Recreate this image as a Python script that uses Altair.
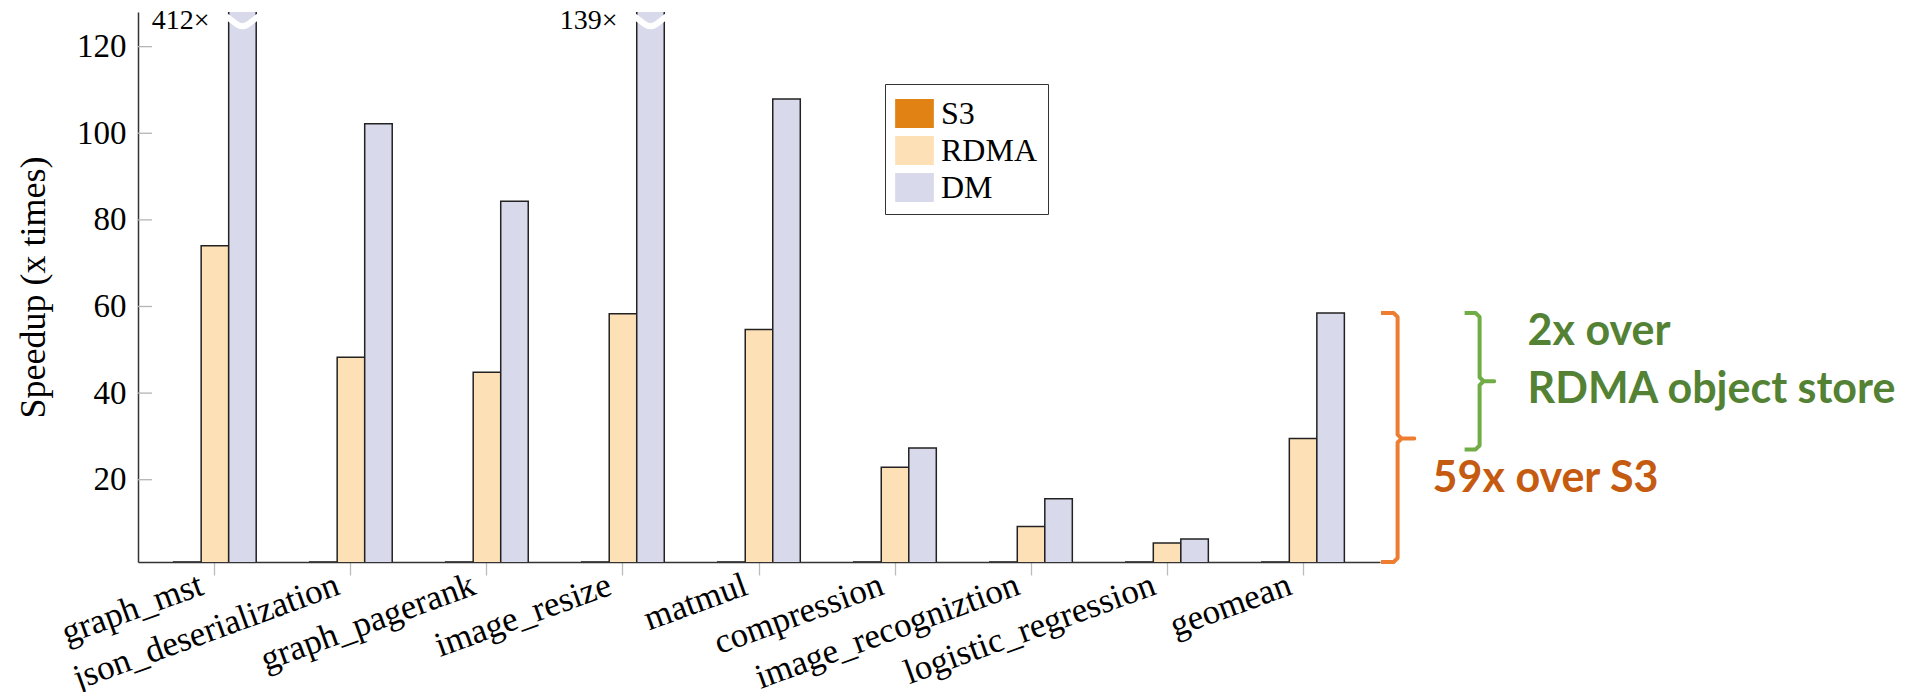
import altair as alt
import pandas as pd

# ---------------- data ----------------
categories = ["graph_mst", "json_deserialization", "graph_pagerank", "image_resize",
              "matmul", "compression", "image_recogniztion", "logistic_regression", "geomean"]
series_names = ["S3", "RDMA", "DM"]
s3_values = [1, 1, 1, 1, 1, 1, 1, 1, 1]
rdma_values = [74.0, 48.3, 44.8, 58.3, 54.7, 22.9, 9.2, 5.4, 29.5]
dm_values = [412, 102.2, 84.3, 139, 107.9, 27.3, 15.6, 6.3, 58.5]
series_colors = ["#e08214", "#fee0b6", "#d8daeb"]

y_ticks = [20, 40, 60, 80, 100, 120]
y_min, y_max = 1, 128

broken_categories = ["graph_mst", "image_resize"]
broken_labels = ["412×", "139×"]

ann_geo_dm = 58.5      # geomean DM
ann_geo_rdma = 29.5    # geomean RDMA
ann_green_bottom = 27.0

# ---------------- tables ----------------
rows = []
for s, vals in zip(series_names, [s3_values, rdma_values, dm_values]):
    for c, v in zip(categories, vals):
        rows.append({"category": c, "series": s, "value": v})
bars_df = pd.DataFrame(rows)

broken_df = pd.DataFrame({"category": broken_categories, "series": ["DM"] * 2,
                          "label": broken_labels, "value": [125.9] * 2})
ticks_df = pd.DataFrame({"value": y_ticks})

W, H = 1242, 550


def bracket(name, xl, xv, xt, top, mid, bottom):
    pts = [(xl, top), (xv - 4, top), (xv, top - 0.9), (xv, mid + 0.9), (xv + 4, mid),
           (xt, mid), (xv + 4, mid), (xv, mid - 0.9), (xv, bottom + 0.9), (xv - 4, bottom), (xl, bottom)]
    return [{"b": name, "o": i, "px": p[0], "value": p[1]} for i, p in enumerate(pts)]


br_df = pd.DataFrame(bracket("orange", 1243, 1259.6, 1276.3, ann_geo_dm, ann_geo_rdma, y_min)
                     + bracket("green", 1326.6, 1341.6, 1356.2, ann_geo_dm,
                               (ann_geo_dm + ann_green_bottom) / 2, ann_green_bottom))

serif = "Liberation Serif"
xscale = alt.Scale(domain=categories, paddingInner=0.393, paddingOuter=0.262)
offscale = alt.Scale(domain=series_names, paddingInner=0, paddingOuter=0)
yscale = alt.Scale(domain=[y_min, y_max], nice=False, zero=False)
yaxis = alt.Axis(values=y_ticks, title="Speedup (x times)", labelFont=serif, labelFontSize=33,
                 titleFont=serif, titleFontSize=36, titleFontWeight="normal", titlePadding=24)
Y = alt.Y("value:Q", scale=yscale, axis=yaxis)

bars = alt.Chart(bars_df).mark_bar(stroke="#222222", strokeWidth=1.5, clip=True).encode(
    x=alt.X("category:N", scale=xscale, title=None,
            axis=alt.Axis(labelAngle=340, labelAlign="right", labelBaseline="top",
                          labelFont=serif, labelFontSize=35,
                          labelPadding=-8, labelOffset=-19, labelLimit=0)),
    xOffset=alt.XOffset("series:N", scale=offscale),
    y=Y,
    color=alt.Color("series:N", scale=alt.Scale(domain=series_names, range=series_colors),
                    legend=alt.Legend(orient="none", legendX=747, legendY=72, title=None,
                                      symbolType="M-1,-0.75H1V0.75H-1Z", symbolSize=1498,
                                      symbolStrokeWidth=0, symbolOpacity=1,
                                      labelFont=serif, labelFontSize=32, labelColor="black",
                                      labelOffset=7, strokeColor="#333333", padding=10,
                                      rowPadding=1, fillColor="white",
                                      labelExpr="datum.label + '\u00a0\u00a0'")),
)

yt = alt.Chart(ticks_df).mark_rule(color="#b5b5b5", strokeWidth=1.3).encode(
    y=Y, x=alt.value(0), x2=alt.value(14))

breaks = alt.Chart(broken_df).mark_point(
    shape="M-1,-0.3L-0.35,0.2Q0,0.45 0.35,0.2L1,-0.3", size=1024, filled=False,
    stroke="white", strokeWidth=6, opacity=1).encode(
    x=alt.X("category:N", scale=xscale, axis=None),
    xOffset=alt.XOffset("series:N", scale=offscale),
    y=Y)

blabels = alt.Chart(broken_df).mark_text(font=serif, fontSize=28, align="right",
                                         baseline="middle", dx=-33, color="black").encode(
    x=alt.X("category:N", scale=xscale, axis=None),
    xOffset=alt.XOffset("series:N", scale=offscale),
    y=Y, text="label:N")

brackets = alt.Chart(br_df).mark_line(strokeWidth=4, strokeJoin="round", strokeCap="butt",
                                      clip=False).encode(
    x=alt.X("px:Q", scale=None, axis=None),
    y=Y,
    order="o:Q",
    detail="b:N",
    color=alt.Color("b:N", scale=alt.Scale(domain=["orange", "green"],
                                           range=["#ed7d31", "#70ad47"]), legend=None))

font_ann = "Lato"
t1 = alt.Chart().mark_text(text="2x over", font=font_ann, fontWeight="bold", fontSize=43,
                           color="#548235", align="left", baseline="alphabetic").encode(
    x=alt.value(1389.6), y=alt.value(333.3))
t2 = alt.Chart().mark_text(text="RDMA object store", font=font_ann, fontWeight="bold",
                           fontSize=43, color="#548235", align="left",
                           baseline="alphabetic").encode(x=alt.value(1389.6), y=alt.value(391.3))
t3 = alt.Chart().mark_text(text="59x over S3", font=font_ann, fontWeight="bold", fontSize=43,
                           color="#c55a11", align="left", baseline="alphabetic").encode(
    x=alt.value(1294.6), y=alt.value(480))

chart = alt.layer(bars, yt, breaks, blabels, brackets, t1, t2, t3).resolve_scale(
    x="independent", color="independent"
).properties(
    width=W, height=H,
    background="white",
    padding={"left": 130, "top": 4, "right": 526, "bottom": 130},
    autosize=alt.AutoSizeParams(type="none"),
).configure_view(
    strokeWidth=0, stroke="transparent"
).configure_axisX(
    labelFont=serif, labelFontSize=35, labelColor="black", tickSize=13,
    tickColor="#bbbbbb", tickWidth=1.3, domainColor="#333333", domainWidth=1.5, grid=False
).configure_axisY(
    tickSize=0, labelPadding=12, labelFont=serif, labelFontSize=33, labelColor="black",
    domainColor="#333333", domainWidth=1.5, grid=False, titleFont=serif, titleFontSize=36,
    titleFontWeight="normal", titleColor="black", titlePadding=24
)

chart.save("out.html", embed_options={"renderer": "svg", "actions": False})
